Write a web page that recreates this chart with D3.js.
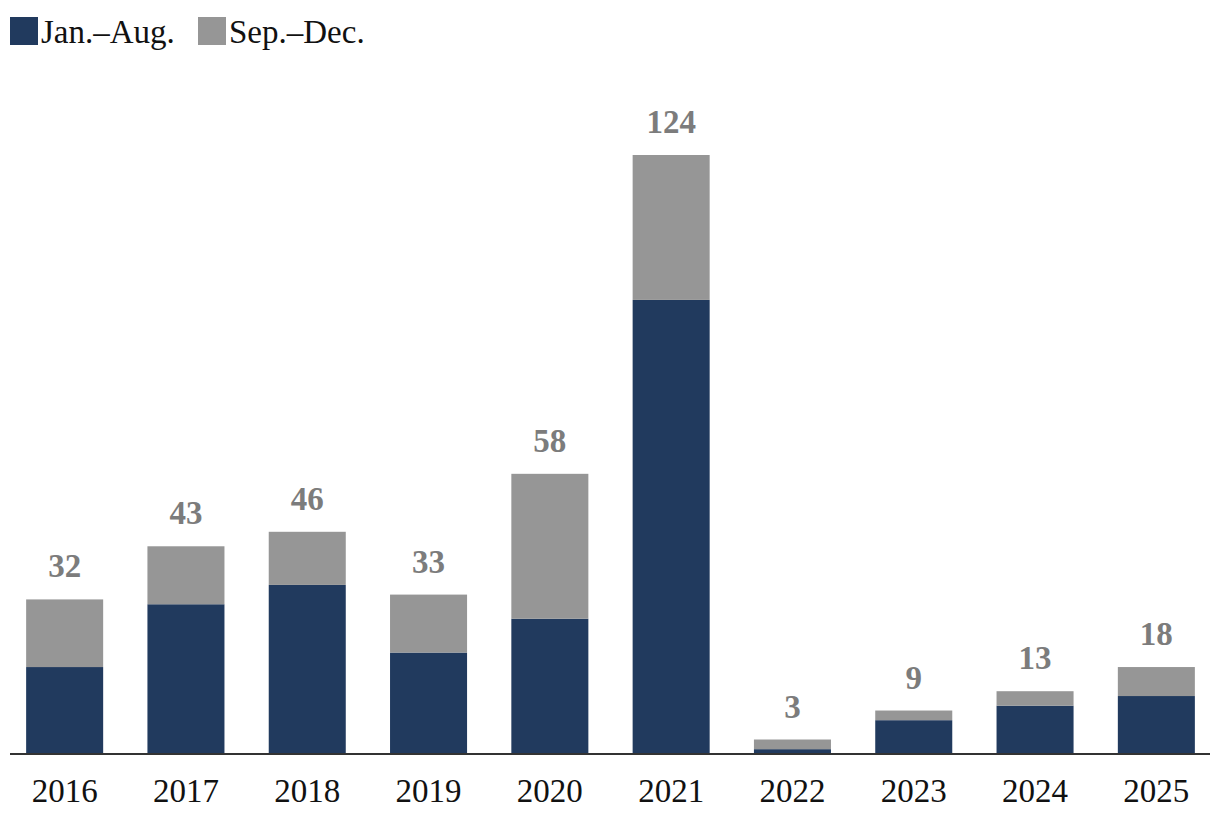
<!DOCTYPE html>
<html>
<head>
<meta charset="utf-8">
<script src="https://cdn.jsdelivr.net/npm/d3@7"></script>
<style>
  html, body { margin: 0; padding: 0; background: #fff; }
  svg { display: block; }
</style>
</head>
<body>
<svg id="chart" width="1220" height="828" font-family="'Liberation Serif', 'Times New Roman', serif"></svg>
<script>
const years = ["2016","2017","2018","2019","2020","2021","2022","2023","2024","2025"];
const janAug = [18, 31, 35, 21, 28, 94, 1, 7, 10, 12];
const sepDec = [14, 12, 11, 12, 30, 30, 2, 2, 3, 6];
const seriesNames = ["Jan.–Aug.", "Sep.–Dec."];
const colors = ["#213a5e", "#969696"];

const FONT = "'Liberation Serif', 'Times New Roman', serif";
const svg = d3.select("#chart");
const baseY = 754;

const x = d3.scaleBand().domain(years).range([4, 1217]).paddingInner(0.365).paddingOuter(0.1825);
const y = d3.scaleLinear().domain([0, 124]).range([baseY, 155]);

const rows = years.map((yr, i) => ({ year: yr, a: janAug[i], b: sepDec[i] }));
const stack = d3.stack().keys(["a", "b"])(rows);

svg.append("g").selectAll("g").data(stack).join("g")
  .attr("fill", (d, i) => colors[i])
  .selectAll("rect").data(d => d).join("rect")
  .attr("x", d => x(d.data.year))
  .attr("width", x.bandwidth())
  .attr("y", d => y(d[1]))
  .attr("height", d => y(d[0]) - y(d[1]));

// baseline
svg.append("line")
  .attr("x1", 10).attr("x2", 1210)
  .attr("y1", baseY).attr("y2", baseY)
  .attr("stroke", "#333").attr("stroke-width", 2);

// total labels
svg.append("g").selectAll("text").data(rows).join("text")
  .attr("x", d => x(d.year) + x.bandwidth() / 2)
  .attr("y", d => y(d.a + d.b) - 22)
  .attr("text-anchor", "middle")
  .attr("font-family", FONT)
  .attr("font-size", 33)
  .attr("font-weight", "bold")
  .attr("fill", "#7c7c7c")
  .text(d => d.a + d.b);

// x axis labels
const xAxis = d3.axisBottom(x).tickSize(0).tickPadding(0);
const gx = svg.append("g").attr("transform", `translate(0,${baseY})`).call(xAxis)
  .attr("font-family", FONT).attr("font-size", 33);
gx.select(".domain").remove();
gx.selectAll("text")
  .attr("fill", "#111")
  .attr("dy", null)
  .attr("y", 48)
  .attr("font-family", FONT)
  .attr("font-size", 33);

// legend
const legendX = [10, 198];
const lg = svg.append("g").selectAll("g").data(seriesNames).join("g")
  .attr("transform", (d, i) => `translate(${legendX[i]},17)`);
lg.append("rect").attr("width", 28).attr("height", 28).attr("fill", (d, i) => colors[i]);
lg.append("text").attr("x", 31).attr("y", 26)
  .attr("font-family", FONT)
  .attr("font-size", 33).attr("fill", "#111").text(d => d);
</script>
</body>
</html>
